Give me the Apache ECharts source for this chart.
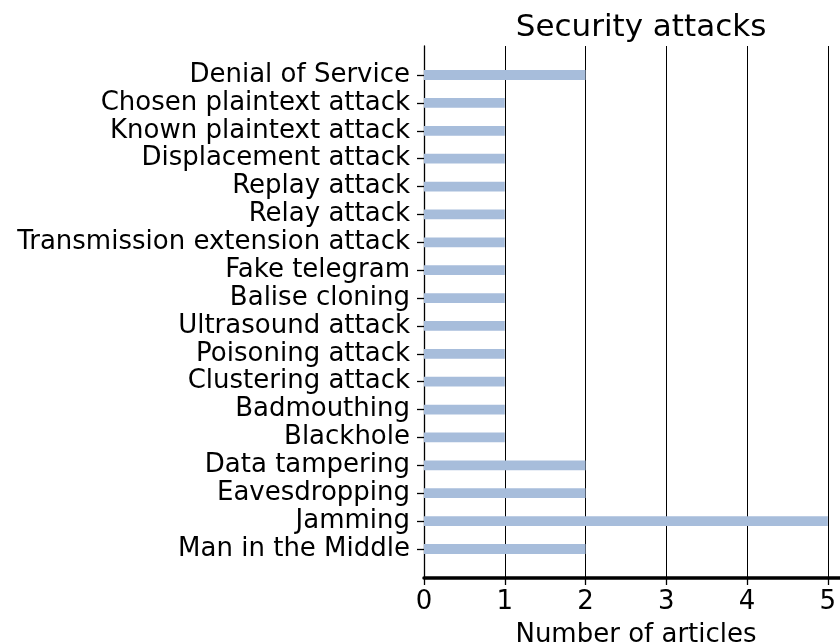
<!DOCTYPE html>
<html>
<head>
<meta charset="utf-8">
<script src="https://cdn.jsdelivr.net/npm/echarts@6/dist/echarts.min.js"></script>
<style>
html,body{margin:0;padding:0;background:#fff;}
#chart{width:840px;height:644px;}
</style>
</head>
<body>
<div id="chart"></div>
<script>
// Categories listed bottom to top
const categories = [
  "Man in the Middle",
  "Jamming",
  "Eavesdropping",
  "Data tampering",
  "Blackhole",
  "Badmouthing",
  "Clustering attack",
  "Poisoning attack",
  "Ultrasound attack",
  "Balise cloning",
  "Fake telegram",
  "Transmission extension attack",
  "Relay attack",
  "Replay attack",
  "Displacement attack",
  "Known plaintext attack",
  "Chosen plaintext attack",
  "Denial of Service"
];
const articleCounts = [2, 5, 2, 2, 1, 1, 1, 1, 1, 1, 1, 1, 1, 1, 1, 1, 1, 2];
const xTicks = [0, 1, 2, 3, 4, 5];
const titleText = "Security attacks";
const xAxisTitle = "Number of articles";

const FONT = "DejaVu Sans";
const barData = articleCounts.map((v, i) => [v, i]);
const yIdx = categories.map((c, i) => i);

const chart = echarts.init(document.getElementById('chart'), null, {renderer: 'canvas'});
chart.setOption({
  animation: false,
  backgroundColor: '#ffffff',
  title: {
    text: titleText,
    left: 636,
    textAlign: 'center',
    top: 7,
    textStyle: {fontFamily: FONT, fontSize: 31, fontWeight: 'normal', color: '#000'}
  },
  grid: {left: 424, top: 46, width: 424, bottom: 66, containLabel: false, outerBoundsMode: 'none'},
  xAxis: {
    type: 'value',
    min: 0,
    max: 5.25,
    interval: 1,
    name: xAxisTitle,
    nameLocation: 'middle',
    nameGap: 44,
    nameTextStyle: {fontFamily: FONT, fontSize: 26, color: '#000'},
    axisLine: {show: true, onZero: false, lineStyle: {color: '#000', width: 3.5}},
    axisTick: {show: true, length: 7, lineStyle: {color: '#000', width: 1.3}, customValues: xTicks},
    axisLabel: {fontFamily: FONT, fontSize: 26, color: '#000', margin: 11, customValues: xTicks},
    splitLine: {show: true, lineStyle: {color: '#000', width: 1}}
  },
  yAxis: {
    type: 'value',
    min: -1.04,
    max: 18.04,
    axisLine: {show: true, onZero: false, lineStyle: {color: '#000', width: 1.3}},
    axisTick: {show: true, length: 7, lineStyle: {color: '#000', width: 1.3}, customValues: yIdx},
    axisLabel: {
      fontFamily: FONT, fontSize: 26, color: '#000', margin: 14,
      customValues: yIdx,
      formatter: v => categories[Math.round(v)] || ''
    },
    splitLine: {show: false}
  },
  series: [{
    type: 'custom',
    data: barData,
    encode: {x: 0, y: 1},
    z: 1,
    renderItem: function (params, api) {
      const val = api.value(0);
      const idx = api.value(1);
      const p0 = api.coord([0, idx]);
      const p1 = api.coord([val, idx]);
      const h = api.size([0, 0.35])[1];
      return {
        type: 'rect',
        shape: {x: p0[0], y: p0[1] - h / 2, width: p1[0] - p0[0], height: h},
        style: {fill: '#a7bddb'}
      };
    }
  }]
});
</script>
</body>
</html>
